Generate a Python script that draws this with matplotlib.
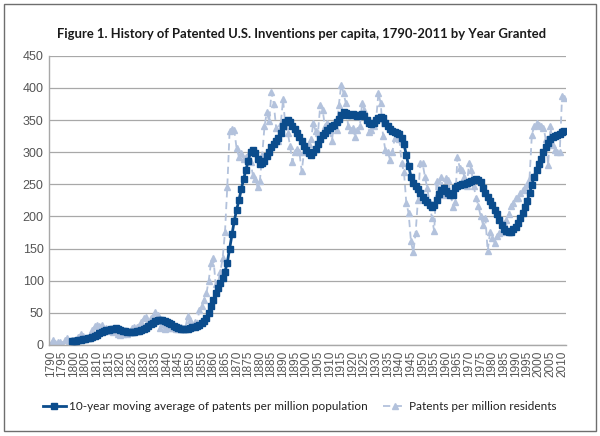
import matplotlib
matplotlib.use("Agg")
import matplotlib.pyplot as plt
from matplotlib.patches import Rectangle

years = list(range(1790, 2012))

patents_per_million = [
    1, 8, 3, 4, 4, 2, 8, 10, 5, 8,
    8, 8, 12, 17, 14, 9, 10, 15, 23, 29,
    31, 29, 31, 23, 26, 21, 24, 20, 24, 17,
    16, 17, 20, 17, 21, 27, 28, 28, 30, 35,
    42, 43, 35, 42, 44, 51, 46, 27, 32, 24,
    27, 28, 27, 27, 25, 24, 28, 24, 27, 45,
    38, 31, 35, 32, 55, 60, 70, 80, 100, 128,
    136, 94, 98, 113, 135, 175, 246, 333, 336, 334,
    306, 293, 298, 290, 292, 295, 285, 264, 259, 246,
    255, 295, 340, 362, 348, 393, 375, 338, 318, 345,
    382, 340, 330, 310, 285, 300, 305, 300, 270, 300,
    305, 312, 320, 345, 333, 330, 374, 366, 340, 345,
    335, 318, 345, 335, 374, 405, 392, 376, 340, 335,
    337, 324, 335, 340, 376, 366, 350, 332, 335, 340,
    350, 392, 376, 325, 303, 301, 288, 300, 322, 325,
    320, 283, 269, 221, 205, 161, 144, 174, 226, 283,
    283, 262, 244, 221, 198, 177, 255, 243, 262, 234,
    260, 257, 237, 215, 222, 293, 275, 272, 262, 247,
    283, 272, 247, 229, 216, 200, 187, 198, 146, 175,
    167, 159, 170, 174, 175, 190, 195, 203, 216, 221,
    229, 229, 236, 241, 245, 250, 260, 327, 340, 345,
    342, 340, 338, 320, 280, 340, 311, 303, 300, 300,
    388, 385,
]

# 10-year moving average, 1799-2011
ma_years = list(range(1799, 2012))
moving_average = [
    5.3,
    5.6, 6.3, 7.2, 8.0, 8.5, 9.2, 10.0, 11.0, 12.5, 14.0,
    16.0, 18.0, 20.0, 21.5, 22.5, 23.5, 24.5, 25.0, 25.5, 24.8,
    23.5, 22.0, 21.0, 20.5, 20.0, 20.0, 20.3, 21.0, 22.0, 23.5,
    25.0, 27.0, 29.5, 32.0, 34.5, 36.5, 38.0, 39.0, 38.5, 37.5,
    36.0, 34.5, 32.5, 30.0, 28.0, 26.5, 25.0, 24.0, 24.0, 25.0,
    26.0, 27.5, 28.5, 30.0, 31.5, 33.5, 37.0, 42.0, 50.0, 60.0,
    70.0, 80.0, 89.0, 97.0, 104.0, 114.0, 128.0, 150.0, 173.0, 193.0,
    210.0, 225.0, 242.0, 258.0, 272.0, 287.0, 300.0, 303.0, 298.0, 290.0,
    281.0, 283.0, 287.0, 294.0, 300.0, 308.0, 313.0, 317.0, 322.0, 330.0,
    340.0, 347.0, 350.0, 347.0, 341.0, 336.0, 330.0, 323.0, 317.0, 310.0,
    304.0, 299.0, 296.0, 300.0, 305.0, 312.0, 320.0, 326.0, 330.0, 335.0,
    338.0, 340.0, 343.0, 347.0, 352.0, 358.0, 362.0, 361.0, 358.0, 358.0,
    359.0, 358.0, 357.0, 358.0, 359.0, 356.0, 350.0, 345.0, 344.0, 346.0,
    350.0, 353.0, 355.0, 353.0, 346.0, 340.0, 336.0, 333.0, 331.0, 330.0,
    328.0, 322.0, 312.0, 296.0, 278.0, 262.0, 252.0, 247.0, 242.0, 236.0,
    230.0, 226.0, 222.0, 218.0, 215.0, 218.0, 225.0, 235.0, 241.0, 244.0,
    239.0, 236.0, 234.0, 233.0, 244.0, 248.0, 249.0, 250.0, 251.0, 252.0,
    253.0, 255.0, 257.0, 259.0, 257.0, 253.0, 244.0, 236.0, 230.0, 224.0,
    218.0, 210.0, 203.0, 195.0, 187.0, 181.0, 177.0, 175.0, 176.0, 180.0,
    184.0, 190.0, 197.0, 205.0, 214.0, 224.0, 236.0, 249.0, 262.0, 273.0,
    282.0, 290.0, 300.0, 308.0, 315.0, 320.0, 323.0, 325.0, 327.0, 328.0,
    331.0, 333.0,
]

tick_years = list(range(1790, 2011, 5))

ma_label = "10-year moving average of patents per million population"
raw_label = "Patents per million residents"
title = "Figure 1. History of Patented U.S. Inventions per capita, 1790-2011 by Year Granted"

dark_blue = "#0b4c8c"
light_blue = "#b3c2dc"
grid_gray = "#a8a8a8"

fig = plt.figure(figsize=(6.0, 4.36), dpi=100)
ax = fig.add_axes([0.082, 0.209, 0.861, 0.663])

idx = {y: i for i, y in enumerate(years)}
x_raw = [idx[y] for y in years]
x_ma = [idx[y] for y in ma_years]

ax.plot(x_raw, patents_per_million, color=light_blue, lw=1.3, ls=(0, (4, 2.5)),
        marker="^", ms=4.8, mfc=light_blue, mec=light_blue, label=raw_label, zorder=2)
ax.plot(x_ma, moving_average, color=dark_blue, lw=2.0, ls="-",
        marker="s", ms=4.3, mfc=dark_blue, mec=dark_blue, label=ma_label, zorder=3)

ax.set_xlim(-0.6, len(years) - 0.4)
ax.set_ylim(0, 450)
ax.set_yticks(range(0, 451, 50))
ax.set_xticks([idx[y] for y in tick_years])
ax.set_xticklabels([str(y) for y in tick_years], rotation=90,
                   fontfamily="Liberation Sans", fontsize=8.5, color="#555555")
for lab in ax.get_yticklabels():
    lab.set_fontfamily("Liberation Sans")
    lab.set_fontsize(9)
    lab.set_color("#555555")
ax.tick_params(axis="both", length=0, pad=4)
ax.yaxis.grid(True, color=grid_gray, lw=0.9)
ax.set_axisbelow(True)
for s in ["top", "right"]:
    ax.spines[s].set_visible(False)
for s in ["left", "bottom"]:
    ax.spines[s].set_color(grid_gray)
    ax.spines[s].set_linewidth(1.0)

fig.text(0.503, 0.922, title, ha="center", va="center", fontfamily="Lato",
         fontweight="bold", fontsize=9.4, color="#1a1a1a")

handles, labels = ax.get_legend_handles_labels()
leg = fig.legend(handles[::-1], labels[::-1], loc="center", bbox_to_anchor=(0.5, 0.067),
                 ncol=2, frameon=False, prop={"family": "Lato", "size": 8.5},
                 handlelength=1.9, columnspacing=1.3, handletextpad=0.3)
for t in leg.get_texts():
    t.set_color("#222222")

fig.patches.append(Rectangle((0.006, 0.012), 0.988, 0.978, transform=fig.transFigure,
                             fill=False, edgecolor="#6e6e6e", lw=1.0))

fig.savefig("out.png", dpi=100)
